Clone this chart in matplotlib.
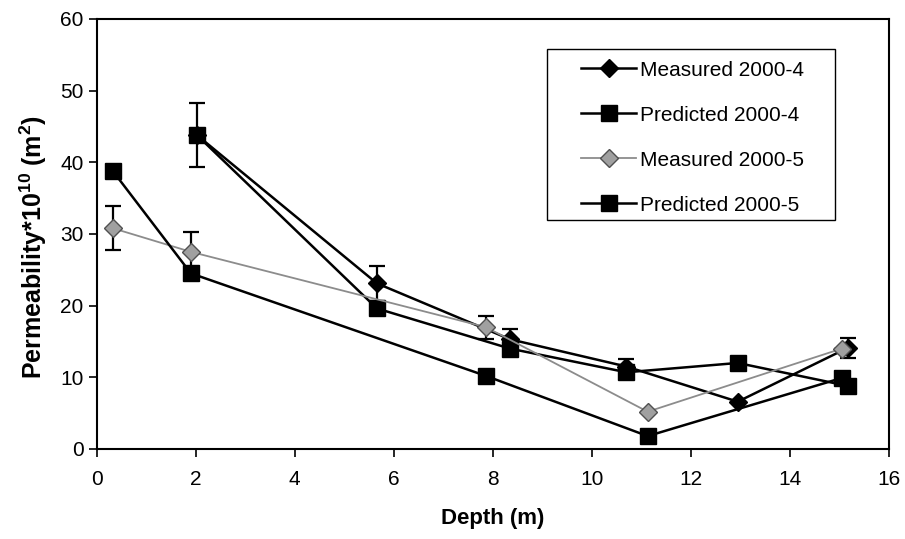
import matplotlib
matplotlib.use("Agg")
import matplotlib.pyplot as plt
from matplotlib.patches import Rectangle

plt.rcParams['font.family'] = ['Liberation Sans', 'DejaVu Sans']
plt.rcParams['mathtext.fontset'] = 'custom'
plt.rcParams['mathtext.rm'] = 'Liberation Sans'
plt.rcParams['mathtext.bf'] = 'Liberation Sans:bold'

# depths (m)
depth_4 = [2.02, 5.66, 8.35, 10.7, 12.95, 15.17]
depth_5 = [0.32, 1.9, 7.86, 11.13, 15.05]

# permeability * 1e10 (m^2)
measured_4 = [43.8, 23.1, 15.3, 11.5, 6.6, 14.1]
measured_4_err = [4.5, 2.4, 1.4, 1.1, 0.0, 1.4]
predicted_4 = [43.8, 19.6, 14.0, 10.7, 12.0, 8.8]

measured_5 = [30.8, 27.5, 17.0, 5.2, 14.0]
measured_5_err = [3.1, 2.7, 1.6, 0.0, 0.0]
predicted_5 = [38.8, 24.5, 10.2, 1.8, 9.9]

fig = plt.figure(figsize=(9.05, 5.39), dpi=100)
ax = fig.add_axes([0.107, 0.167, 0.875, 0.798])

ax.errorbar(depth_4, measured_4, yerr=measured_4_err, fmt='none',
            ecolor='black', elinewidth=1.6, capsize=6, capthick=1.6, zorder=2)
ax.errorbar(depth_5, measured_5, yerr=measured_5_err, fmt='none',
            ecolor='black', elinewidth=1.6, capsize=6, capthick=1.6, zorder=2)

ax.plot(depth_4, measured_4, '-D', color='black', lw=1.8, ms=9,
        label='Measured 2000-4', zorder=3)
ax.plot(depth_4, predicted_4, '-s', color='black', lw=1.8, ms=11,
        label='Predicted 2000-4', zorder=3)
ax.plot(depth_5, measured_5, '-D', color='#8c8c8c', lw=1.3, ms=9,
        markerfacecolor='#a0a0a0', markeredgecolor='#505050',
        label='Measured 2000-5', zorder=3)
ax.plot(depth_5, predicted_5, '-s', color='black', lw=1.8, ms=11,
        label='Predicted 2000-5', zorder=3)

ax.set_xlim(0, 16)
ax.set_ylim(0, 60)
ax.set_xticks(range(0, 17, 2))
ax.set_yticks(range(0, 61, 10))
ax.tick_params(direction='out', length=6, width=1.2, labelsize=15,
               colors='black')
ax.tick_params(axis='x', pad=9)
for s in ax.spines.values():
    s.set_linewidth(1.5)
    s.set_color('black')

ax.set_xlabel('Depth (m)', fontsize=16, fontweight='bold', labelpad=14)
ax.set_ylabel(r'Permeability*10$^{\mathbf{10}}$ (m$^{\mathbf{2}}$)',
              fontsize=18, fontweight='bold')
ax.yaxis.set_label_coords(-0.06, 0.47)

# legend frame drawn separately (wide side padding as in the original)
ax.add_patch(Rectangle((0.568, 0.533), 0.364, 0.397, transform=ax.transAxes,
                       facecolor='white', edgecolor='black', lw=1.0,
                       zorder=4))
leg = ax.legend(loc='upper left', bbox_to_anchor=(0.612, 0.903),
                fontsize=15, frameon=False, handlelength=2.6,
                labelspacing=1.25, borderpad=0, handletextpad=0.2,
                borderaxespad=0)
leg.set_zorder(5)

fig.savefig('out.png', dpi=100)
